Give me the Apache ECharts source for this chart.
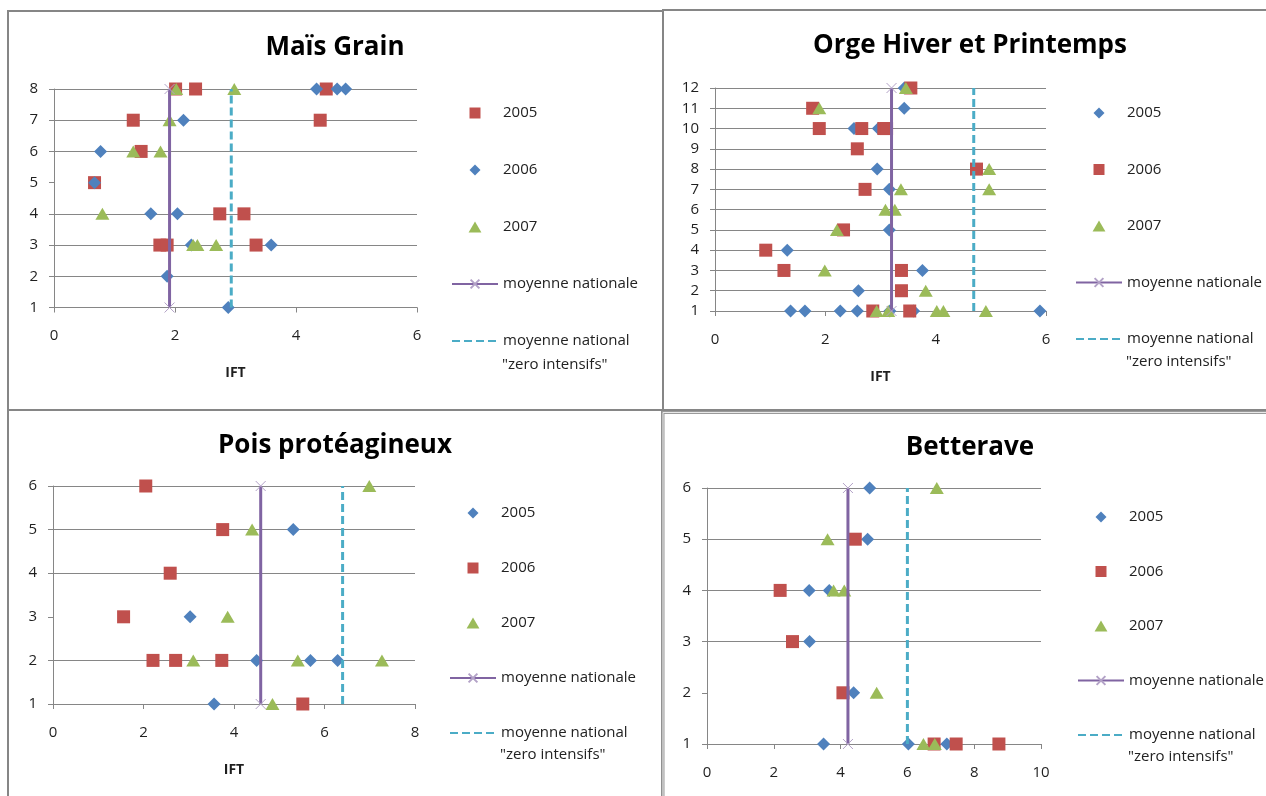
<!DOCTYPE html>
<html>
<head>
<meta charset="utf-8">
<script src="https://cdn.jsdelivr.net/npm/echarts@6/dist/echarts.min.js"></script>
<style>
html,body{margin:0;padding:0;background:#fff;}
#c{width:1266px;height:796px;}
</style>
</head>
<body>
<div id="c"></div>
<script>
// ---------- DATA ----------
// Panel titles
const titles = ['Maïs Grain', 'Orge Hiver et Printemps', 'Pois protéagineux', 'Betterave'];

// Axis ticks
const maisXTicks = [0, 2, 4, 6];
const maisYTicks = [1, 2, 3, 4, 5, 6, 7, 8];
const orgeXTicks = [0, 2, 4, 6];
const orgeYTicks = [1, 2, 3, 4, 5, 6, 7, 8, 9, 10, 11, 12];
const poisXTicks = [0, 2, 4, 6, 8];
const poisYTicks = [1, 2, 3, 4, 5, 6];
const betXTicks = [0, 2, 4, 6, 8, 10];
const betYTicks = [1, 2, 3, 4, 5, 6];

// Maïs Grain  (legend: 2005 red square, 2006 blue diamond, 2007 green triangle)
const mais2005 = [[2.01,8],[2.34,8],[4.50,8],[1.31,7],[4.40,7],[1.44,6],[0.67,5],[2.74,4],[3.14,4],[1.75,3],[1.87,3],[3.34,3]];
const mais2006 = [[4.34,8],[4.68,8],[4.82,8],[2.14,7],[0.77,6],[0.67,5],[1.60,4],[2.04,4],[2.27,3],[3.59,3],[1.87,2],[2.88,1]];
const mais2007 = [[2.02,8],[2.98,8],[1.91,7],[1.31,6],[1.76,6],[0.80,4],[2.30,3],[2.37,3],[2.68,3]];
const maisMoyenne = 1.91;
const maisZero = 2.93;

// Orge Hiver et Printemps (2005 blue diamond, 2006 red square, 2007 green triangle)
const orge2005 = [[3.43,12],[3.43,11],[2.52,10],[2.96,10],[2.94,8],[3.16,7],[3.16,5],[1.31,4],[3.76,3],[2.60,2],[1.37,1],[1.63,1],[2.27,1],[2.58,1],[3.17,1],[3.60,1],[5.89,1]];
const orge2006 = [[3.55,12],[1.77,11],[1.89,10],[2.66,10],[3.06,10],[3.11,10],[2.58,9],[4.74,8],[2.72,7],[2.33,5],[0.92,4],[1.25,3],[3.38,3],[3.38,2],[2.86,1],[3.53,1]];
const orge2007 = [[3.46,12],[1.89,11],[4.97,8],[3.37,7],[4.97,7],[3.09,6],[3.26,6],[2.21,5],[1.99,3],[3.82,2],[2.93,1],[3.14,1],[4.02,1],[4.14,1],[4.91,1]];
const orgeMoyenne = 3.20;
const orgeZero = 4.69;

// Pois protéagineux (2005 blue diamond, 2006 red square, 2007 green triangle)
const pois2005 = [[5.31,5],[3.03,3],[4.50,2],[5.69,2],[6.29,2],[3.56,1]];
const pois2006 = [[2.05,6],[3.75,5],[2.59,4],[1.56,3],[2.21,2],[2.71,2],[3.73,2],[5.52,1]];
const pois2007 = [[6.99,6],[4.40,5],[3.86,3],[3.10,2],[5.41,2],[7.27,2],[4.85,1]];
const poisMoyenne = 4.59;
const poisZero = 6.40;

// Betterave (2005 blue diamond, 2006 red square, 2007 green triangle)
const bet2005 = [[4.87,6],[4.81,5],[3.06,4],[3.66,4],[3.07,3],[4.39,2],[3.49,1],[6.03,1],[7.18,1]];
const bet2006 = [[4.44,5],[2.19,4],[2.56,3],[4.07,2],[6.80,1],[7.46,1],[8.74,1]];
const bet2007 = [[6.88,6],[3.61,5],[3.79,4],[4.11,4],[5.08,2],[6.48,1],[6.82,1]];
const betMoyenne = 4.22;
const betZero = 6.00;

const yearNames = ['2005', '2006', '2007'];
const lineNames = ['moyenne nationale', 'moyenne national'];
const secondLine = '"zero intensifs"';

// ---------- STYLE / LAYOUT ----------
const FONT = 'Open Sans';
const BLUE = '#4F81BD', RED = '#C0504D', GREEN = '#9BBB59', PURPLE = '#8064A2', AQUA = '#4BACC6', LPURPLE = '#B3A2C7';
const GRAY = '#868686';
const XSYM = 'path://M0,0L10,10M10,0L0,10';

const panels = [
  { key:'A', xt: maisXTicks, yt: maisYTicks, sets:[mais2005, mais2006, mais2007], look:['sq','di','tr'], moy: maisMoyenne, zero: maisZero,
    grid:{left:54, top:89, width:363, height:218.5}, hideGrid:[5], showName:true,
    legend:{left:451, top:104, pitch:57}, title:[335,48], line2:[502,365] },
  { key:'B', xt: orgeXTicks, yt: orgeYTicks, sets:[orge2005, orge2006, orge2007], look:['di','sq','tr'], moy: orgeMoyenne, zero: orgeZero,
    grid:{left:715, top:88, width:331, height:223}, hideGrid:[], showName:true,
    legend:{left:1075, top:104, pitch:56.5}, title:[970,46], line2:[1126,362] },
  { key:'C', xt: poisXTicks, yt: poisYTicks, sets:[pois2005, pois2006, pois2007], look:['di','sq','tr'], moy: poisMoyenne, zero: poisZero,
    grid:{left:53, top:486, width:362, height:218}, hideGrid:[3], showName:true,
    legend:{left:449, top:504, pitch:55}, title:[335,446], line2:[500,755] },
  { key:'D', xt: betXTicks, yt: betYTicks, sets:[bet2005, bet2006, bet2007], look:['di','sq','tr'], moy: betMoyenne, zero: betZero,
    grid:{left:707, top:488, width:334, height:256}, hideGrid:[2], showName:false,
    legend:{left:1077, top:508, pitch:54.5}, title:[970,448], line2:[1128,757] }
];

const looks = {
  sq: { symbol:'path://M0,0L10,0L10,10L0,10Z', size:13, color:RED },
  di: { symbol:'path://M6,0L12,6L6,12L0,6Z', size:13, color:BLUE },
  tr: { symbol:'path://M7,0L14,12L0,12Z', size:[14,12], color:GREEN }
};

const grids = [], xAxes = [], yAxes = [], series = [], legends = [], graphics = [];

// panel borders
graphics.push({type:'rect', shape:{x:8, y:11, width:655, height:399}, style:{fill:null, stroke:GRAY, lineWidth:2}, silent:true});
graphics.push({type:'rect', shape:{x:663, y:10, width:620, height:400}, style:{fill:null, stroke:GRAY, lineWidth:2}, silent:true});
graphics.push({type:'rect', shape:{x:8, y:410, width:654, height:400}, style:{fill:null, stroke:GRAY, lineWidth:2}, silent:true});
graphics.push({type:'rect', shape:{x:663, y:412.5, width:620, height:400}, style:{fill:null, stroke:'#9a9a9a', lineWidth:3}, silent:true});
graphics.push({type:'rect', shape:{x:663, y:412.5, width:620, height:400}, style:{fill:null, stroke:'#e8e8e8', lineWidth:1}, silent:true});

panels.forEach((p, i) => {
  grids.push(Object.assign({}, p.grid));
  const xmin = p.xt[0], xmax = p.xt[p.xt.length-1];
  const ymin = p.yt[0], ymax = p.yt[p.yt.length-1];
  xAxes.push({
    gridIndex:i, type:'value', min:xmin, max:xmax, interval:p.xt[1]-p.xt[0],
    axisLine:{show:true, onZero:false, lineStyle:{color:GRAY, width:1}},
    axisTick:{show:true, length:5, lineStyle:{color:GRAY}},
    axisLabel:{margin:21, fontFamily:FONT, fontSize:15, color:'#1f1f1f'},
    splitLine:{show:false},
    name: p.showName ? 'IFT' : '', nameLocation:'middle', nameGap:59,
    nameTextStyle:{fontFamily:FONT, fontWeight:'bold', fontSize:14, color:'#1f1f1f'}
  });
  const cols = p.yt.map(v => p.hideGrid.indexOf(v) >= 0 ? 'rgba(0,0,0,0)' : GRAY);
  yAxes.push({
    gridIndex:i, type:'value', min:ymin, max:ymax, interval:1,
    axisLine:{show:true, onZero:false, lineStyle:{color:GRAY, width:1}},
    axisTick:{show:true, length:5, lineStyle:{color:GRAY}},
    axisLabel:{margin:16, fontFamily:FONT, fontSize:15, color:'#1f1f1f'},
    splitLine:{show:true, lineStyle:{color:cols, width:1}}
  });
  const legendData = [];
  p.sets.forEach((d, k) => {
    const lk = looks[p.look[k]];
    const nm = p.key + '|' + yearNames[k];
    legendData.push(nm);
    series.push({
      type:'scatter', name:nm, xAxisIndex:i, yAxisIndex:i, data:d,
      symbol:lk.symbol, symbolSize:lk.size, symbolKeepAspect:false,
      itemStyle:{color:lk.color, opacity:1},
      z:2, animation:false
    });
  });
  const nmMoy = p.key + '|' + lineNames[0];
  const nmZero = p.key + '|' + lineNames[1];
  legendData.push(nmMoy);
  legendData.push({name:nmZero, itemStyle:{color:'rgba(0,0,0,0)', borderColor:'rgba(0,0,0,0)', borderWidth:0}});
  series.push({
    type:'line', name:nmMoy, xAxisIndex:i, yAxisIndex:i,
    data:[[p.moy, ymin],[p.moy, ymax]],
    symbol:XSYM, symbolSize:10, showSymbol:true,
    lineStyle:{color:PURPLE, width:3},
    itemStyle:{color:LPURPLE, borderColor:LPURPLE, borderWidth:1},
    z:3, animation:false
  });
  series.push({
    type:'line', name:nmZero, xAxisIndex:i, yAxisIndex:i,
    data:[[p.zero, ymin],[p.zero, ymax]],
    symbol:'none', showSymbol:false,
    lineStyle:{color:AQUA, width:3, type:[8,4]},
    itemStyle:{color:AQUA},
    z:3, animation:false
  });
  legends.push({
    orient:'vertical', left:p.legend.left, top:p.legend.top, padding:0,
    itemWidth:46, itemHeight:11, itemGap:p.legend.pitch - 18,
    selectedMode:false, symbolKeepAspect:true,
    textStyle:{fontFamily:FONT, fontSize:15, color:'#222', lineHeight:18},
    formatter: n => n.split('|')[1],
    data: legendData
  });
  graphics.push({type:'text', x:p.title[0], y:p.title[1], silent:true,
    style:{text:titles[i], font:'bold 26px "Open Sans"', fill:'#000', textAlign:'center', textVerticalAlign:'middle'}});
  graphics.push({type:'text', x:p.line2[0], y:p.line2[1], silent:true,
    style:{text:secondLine, font:'15px "Open Sans"', fill:'#222', textAlign:'left', textVerticalAlign:'middle'}});
});

const chart = echarts.init(document.getElementById('c'), null, {renderer:'canvas'});
chart.setOption({
  backgroundColor:'#fff',
  animation:false,
  grid:grids, xAxis:xAxes, yAxis:yAxes, series:series, legend:legends,
  graphic:graphics
});
</script>
</body>
</html>
